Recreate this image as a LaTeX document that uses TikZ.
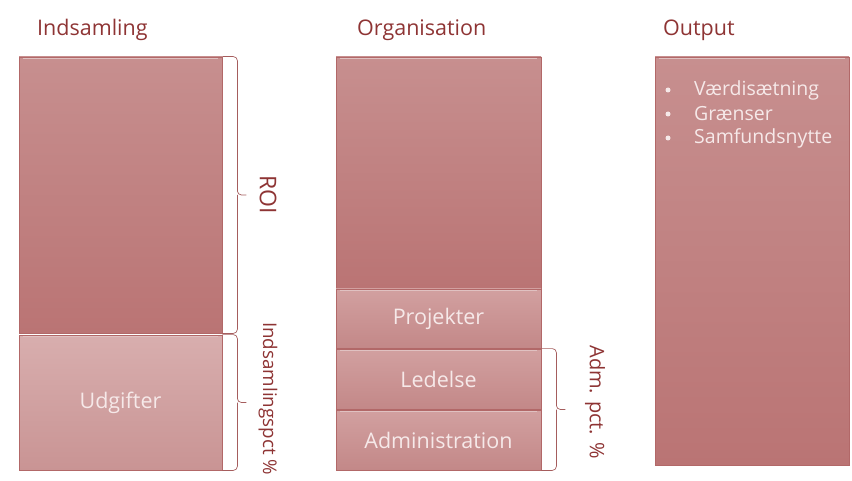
\documentclass[tikz,border=0pt]{standalone}
\usepackage{fontspec}
\setmainfont{Open Sans}
\usetikzlibrary{calc}
\definecolor{ttl}{HTML}{8E3434}
\definecolor{boxtop}{HTML}{C78F8F}
\definecolor{boxbot}{HTML}{BA7474}
\definecolor{lighttop}{HTML}{D8AEAE}
\definecolor{lightbot}{HTML}{C99494}
\definecolor{midtop}{HTML}{D2A0A0}
\definecolor{midbot}{HTML}{C38888}
\definecolor{edge}{HTML}{B26868}
\definecolor{wtxt}{HTML}{F6E9E9}
\begin{document}
\begin{tikzpicture}[x=1pt,y=-1pt,
  title/.style={anchor=west,text=ttl,font=\fontsize{21.5}{24}\selectfont,inner sep=0pt},
  bigbox/.style={draw=edge,line width=0.8pt,top color=boxtop,bottom color=boxbot,inner sep=0pt},
  lightbox/.style={draw=edge,line width=0.8pt,top color=lighttop,bottom color=lightbot,inner sep=0pt,text=wtxt,font=\fontsize{21.5}{24}\selectfont},
  midbox/.style={draw=edge,line width=0.8pt,top color=midtop,bottom color=midbot,inner sep=0pt,text=wtxt,font=\fontsize{21.5}{24}\selectfont},
  bevel/.style={draw=white!45!boxtop,line width=1.2pt},
  brc/.style={draw=ttl!80,line width=0.7pt,rounded corners=4pt},
  side/.style={text=ttl,font=\fontsize{20}{22}\selectfont,rotate=-90,inner sep=0pt},
  bul/.style={anchor=west,text=wtxt,font=\fontsize{19.5}{22}\selectfont,inner sep=0pt}]
\useasboundingbox (0,0) rectangle (852,481);
% titles
\node[title] (t1) at (37,30) {Indsamling};
\node[title] (t2) at (357,30) {Organisation};
\node[title] (t3) at (663,30) {Output};
% left column
\node[bigbox,minimum width=203pt,minimum height=276pt] (roi) at (120.5,195) {};
\node[lightbox,minimum width=203pt,minimum height=135pt] (udg) at (120.5,402.5) {Udgifter};
% middle column
\node[bigbox,minimum width=205pt,minimum height=231pt] (org) at (438.5,172.5) {};
\node[midbox,minimum width=205pt,minimum height=59pt] (proj) at (438.5,318.5) {Projekter};
\node[midbox,minimum width=205pt,minimum height=60pt] (led) at (438.5,379) {Ledelse};
\node[midbox,minimum width=205pt,minimum height=60pt] (adm) at (438.5,440) {Administration};
% right column
\node[bigbox,minimum width=194pt,minimum height=408pt] (out) at (752,261) {};
% bevel highlights
\foreach \n in {roi,udg,org,proj,led,adm,out}{
  \draw[bevel] ($(\n.north west)+(4,2)$) -- ($(\n.north east)+(-4,2)$);}
\node[bul] (b1) at (694,90) {Værdisætning};
\node[bul] (b2) at (694,114) {Grænser};
\node[bul] (b3) at (694,138) {Samfundsnytte};
\foreach \b in {b1,b2,b3}{\fill[wtxt] ($(\b.west)+(-26,0)$) circle (2.5pt);}
% braces
\coordinate (rm) at ($(roi.east)+(15,0)$);
\draw[brc] (roi.north east) -- ++(15,0) -- (rm) -- ++(9,0);
\draw[brc] (rm) -- ($(roi.south east)+(15,0)$) -- (roi.south east);
\coordinate (um) at ($(udg.east)+(15,0)$);
\draw[brc] (udg.north east) -- ++(15,0) -- (um) -- ++(9,0);
\draw[brc] (um) -- ($(udg.south east)+(15,0)$) -- (udg.south east);
\coordinate (amid) at ($(led.north east)!0.5!(adm.south east)+(15,0)$);
\draw[brc] (led.north east) -- ++(15,0) -- (amid) -- ++(9,0);
\draw[brc] (amid) -- ($(adm.south east)+(15,0)$) -- (adm.south east);
% side labels
\node[side,font=\fontsize{23}{25}\selectfont] (roil) at (268,195) {ROI};
\node[side,anchor=west,font=\fontsize{18.8}{21}\selectfont] (indl) at (268,322) {Indsamlingspct \%};
\node[side] (adml) at (595,402) {Adm. pct. \%};
\end{tikzpicture}
\end{document}
